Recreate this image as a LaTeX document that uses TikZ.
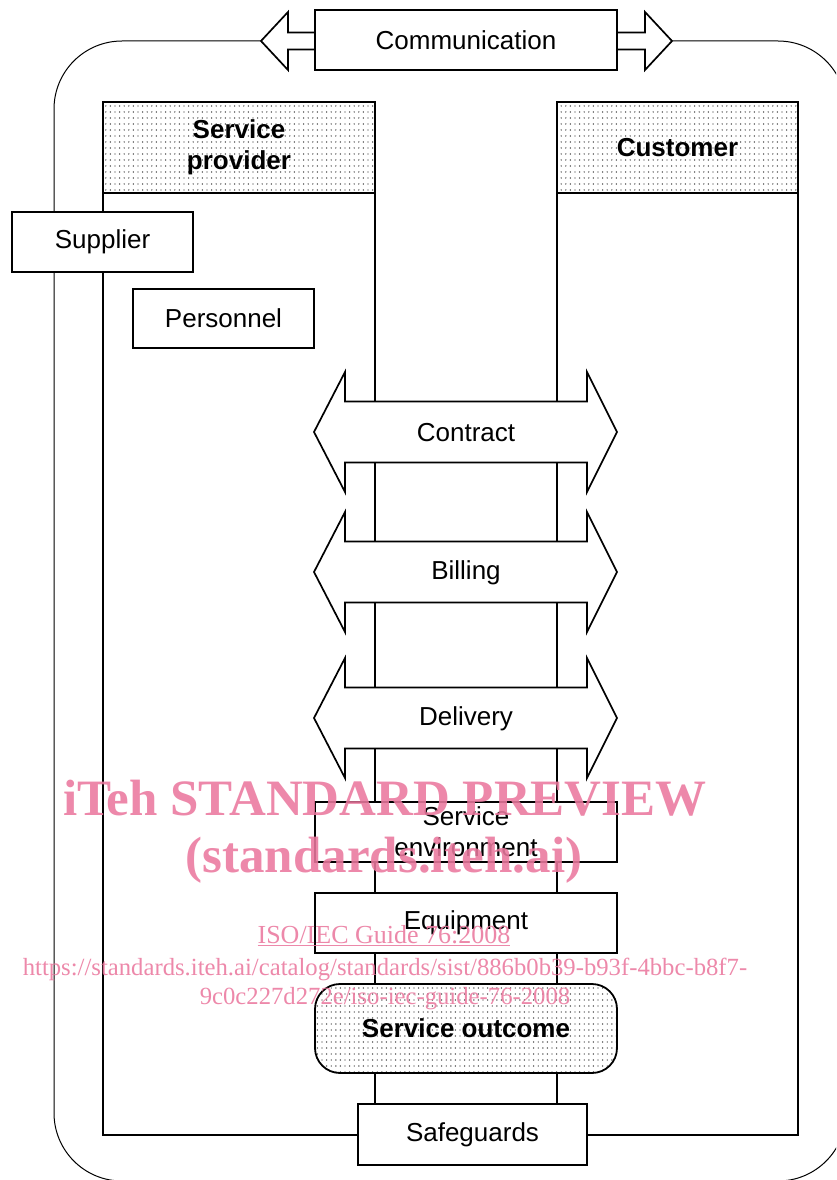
\documentclass[tikz,border=0pt]{standalone}
\usepackage{fontspec}
\setmainfont{Liberation Sans}
\newfontfamily\wmfont{Liberation Serif}
\usetikzlibrary{patterns}
\pgfdeclarepatternformonly{sparsedots}{\pgfqpoint{-1pt}{-1pt}}{\pgfqpoint{1pt}{1pt}}{\pgfqpoint{4.6pt}{6pt}}{\pgfpathcircle{\pgfqpoint{0pt}{0pt}}{0.7pt}\pgfusepath{fill}}
\definecolor{wmpink}{RGB}{234,120,158}
\newcommand\txtfont{\fontsize{26}{31}\selectfont}
\tikzset{
  frameline/.style={draw, line width=1pt},
  box/.style={draw, line width=1.8pt, fill=white, inner sep=0pt, font=\txtfont, align=center},
  outline/.style={draw, line width=1.8pt, inner sep=0pt},
  dotfill/.style={pattern=sparsedots, pattern color=black!85},
  headbox/.style={draw, line width=1.8pt, inner sep=0pt, dotfill, font=\txtfont\bfseries, align=center},
  arrowshape/.style={draw, line width=1.7pt, fill=white, line join=miter},
  lbl/.style={inner sep=0pt, font=\txtfont},
  wm/.style={text=wmpink, text opacity=0.88, inner sep=0pt, anchor=base}
}
\newcommand\dblarrow[3]{%
  \draw[arrowshape] (314,#1) -- (345,{#1-60}) -- (345,{#1-30.5}) -- (587,{#1-30.5}) -- (587,{#1-60}) -- (617,#1)
     -- (587,{#1+60}) -- (587,{#1+30.5}) -- (345,{#1+30.5}) -- (345,{#1+60}) -- cycle;
  \node[lbl] (#2) at (466,{#1+1}) {#3};}
\begin{document}
\begin{tikzpicture}[x=1pt,y=-1pt]
\useasboundingbox (0,0) rectangle (836,1180);
% outer frame
\begin{scope}
  \clip (0,0) rectangle (836,1180);
  \draw[frameline, rounded corners=68] (54,41) rectangle (846,1181);
\end{scope}
% provider and customer outlines
\node[outline, minimum width=272, minimum height=1033] (provbox) at (239,618.5) {};
\node[outline, minimum width=241, minimum height=1033] (custbox) at (677.5,618.5) {};
\node[headbox, minimum width=272, minimum height=91] (provhead) at (239,147.5) {Service\\provider};
\node[headbox, minimum width=241, minimum height=91] (custhead) at (677.5,147.5) {Customer};
% communication
\draw[arrowshape] (261,41) -- (288,12) -- (288,32.5) -- (645,32.5) -- (645,12) -- (672,41)
   -- (645,70) -- (645,49.5) -- (288,49.5) -- (288,70) -- cycle;
\node[box, minimum width=302, minimum height=60] (comm) at (466,40) {Communication};
% supplier, personnel
\node[box, minimum width=181, minimum height=60] (supplier) at (102.5,242) {Supplier};
\node[box, minimum width=181, minimum height=59] (personnel) at (223.5,318.5) {Personnel};
% double arrows
\dblarrow{432}{contract}{Contract}
\dblarrow{572}{billing}{Billing}
\dblarrow{718}{delivery}{Delivery}
% lower boxes
\node[box, minimum width=302, minimum height=60] (env) at (466,832) {Service\\environment};
\node[box, minimum width=302, minimum height=60] (equip) at (466,923) {Equipment};
\node[draw, line width=1.8pt, inner sep=0pt, rounded corners=25, preaction={fill=white}, dotfill,
      font=\txtfont\bfseries, minimum width=302, minimum height=89] (outcome) at (466,1028.5) {Service outcome};
\node[box, minimum width=229, minimum height=61] (safe) at (472.5,1134.5) {Safeguards};
% watermark
\node[wm, font=\wmfont\bfseries\fontsize{51}{55}\selectfont] (wm1) at (385,815) {iTeh STANDARD PREVIEW};
\node[wm, font=\wmfont\bfseries\fontsize{51}{55}\selectfont] (wm2) at (384,872) {(standards.iteh.ai)};
\node[wm, font=\wmfont\fontsize{26}{30}\selectfont] (wm3) at (384,943) {\underline{ISO/IEC Guide 76:2008}};
\node[wm, font=\wmfont\fontsize{24.7}{29}\selectfont] (wm4) at (385,975) {https://standards.iteh.ai/catalog/standards/sist/886b0b39-b93f-4bbc-b8f7-};
\node[wm, font=\wmfont\fontsize{24.7}{29}\selectfont] (wm5) at (385,1004) {9c0c227d272e/iso-iec-guide-76-2008};
\end{tikzpicture}
\end{document}
